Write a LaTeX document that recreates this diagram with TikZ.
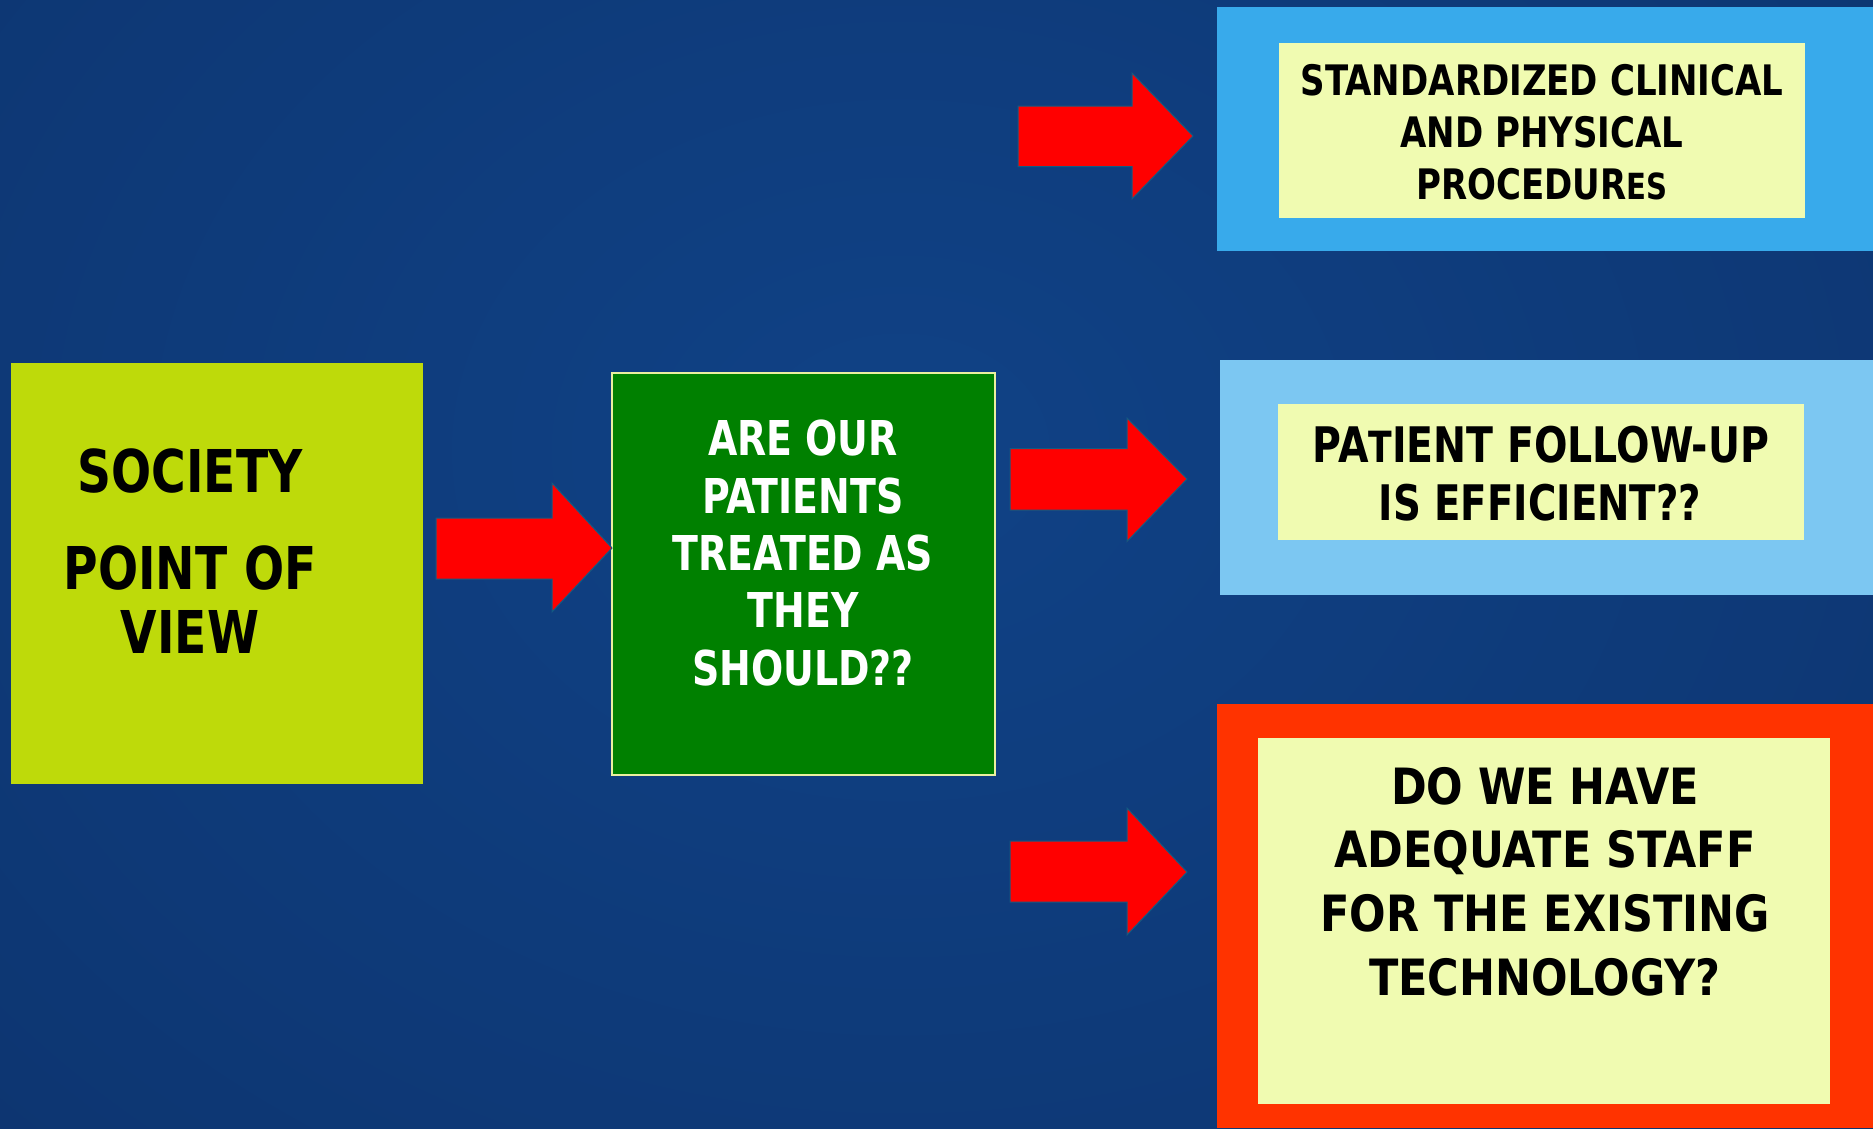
\documentclass[tikz,border=0pt]{standalone}
\usepackage{fontspec}
\setmainfont{DejaVu Sans}
\definecolor{bgin}{RGB}{16,66,134}
\definecolor{bgmid}{RGB}{13,54,114}
\definecolor{bgout}{RGB}{6,26,72}
\definecolor{lime}{RGB}{190,218,10}
\definecolor{boxgreen}{RGB}{0,128,0}
\definecolor{paleyel}{RGB}{240,251,177}
\definecolor{skyA}{RGB}{56,170,235}
\definecolor{skyB}{RGB}{124,199,242}
\definecolor{hotred}{RGB}{255,51,0}
\definecolor{arrowred}{RGB}{255,0,0}
\definecolor{arrowedge}{RGB}{20,90,130}
\pgfdeclareradialshading{bgshade}{\pgfpoint{0bp}{0bp}}{color(0bp)=(bgin); color(26bp)=(bgmid); color(58bp)=(bgout)}
\newcommand\sx[2]{\scalebox{#1}[1]{#2}}
\begin{document}
\begin{tikzpicture}[x=1pt,y=-1pt,
  panel/.style={rectangle, inner sep=0pt, outer sep=0pt, anchor=north west},
  txt/.style={anchor=base, inner sep=0pt, outer sep=0pt},
  blockarrow/.style={fill=arrowred, draw=arrowedge, line width=1pt, line join=miter}]
\useasboundingbox (0,0) rectangle (1873,1128);
\begin{scope}
\clip (0,0) rectangle (1873,1128);
\shade[shading=bgshade] (-250,-450) rectangle (2050,1350);
\end{scope}

% boxes
\node[panel, fill=lime, minimum width=412pt, minimum height=421pt] (society) at (11,363) {};
\node[panel, fill=boxgreen, draw={rgb,255:red,235;green,240;blue,160}, line width=1.5pt,
      minimum width=383pt, minimum height=402pt] (treated) at (612,373) {};
\node[panel, fill=skyA, minimum width=656pt, minimum height=244pt] (outerA) at (1217,7) {};
\node[panel, fill=paleyel, minimum width=526pt, minimum height=175pt] (innerA) at (1279,43) {};
\node[panel, fill=skyB, minimum width=653pt, minimum height=235pt] (outerB) at (1220,360) {};
\node[panel, fill=paleyel, minimum width=526pt, minimum height=136pt] (innerB) at (1278,404) {};
\node[panel, fill=hotred, minimum width=656pt, minimum height=424pt] (outerC) at (1217,704) {};
\node[panel, fill=paleyel, minimum width=572pt, minimum height=366pt] (innerC) at (1258,738) {};

% arrows
\draw[blockarrow] (436,518) -- (552,518) -- (552,483) -- (612,548) -- (552,612) -- (552,579) -- (436,579) -- cycle;
\draw[blockarrow] (1018,106) -- (1132,106) -- (1132,73) -- (1193,136) -- (1132,199) -- (1132,166.5) -- (1018,166.5) -- cycle;
\draw[blockarrow] (1010,448.5) -- (1127,448.5) -- (1127,418) -- (1187,479) -- (1127,541.5) -- (1127,510) -- (1010,510) -- cycle;
\draw[blockarrow] (1010,841) -- (1127,841) -- (1127,808) -- (1187,872) -- (1127,935) -- (1127,902) -- (1010,902) -- cycle;

% left box text
\begin{scope}[every node/.style={txt, font=\bfseries\fontsize{59}{59}\selectfont}]
\node (s1) at (190,492) {\sx{0.80}{SOCIETY}};
\node (s2) at (190,589) {\sx{0.80}{POINT OF}};
\node (s3) at (190,653) {\sx{0.80}{VIEW}};
\end{scope}

% green box text
\begin{scope}[every node/.style={txt, text=white, font=\bfseries\fontsize{48}{48}\selectfont}]
\node (g1) at (803,455) {\sx{0.79}{ARE OUR}};
\node (g2) at (803,513) {\sx{0.79}{PATIENTS}};
\node (g3) at (803,570) {\sx{0.79}{TREATED AS}};
\node (g4) at (803,627) {\sx{0.79}{THEY}};
\node (g5) at (803,685) {\sx{0.79}{SHOULD??}};
\end{scope}

% box A text
\begin{scope}[every node/.style={txt, font=\bfseries\fontsize{42}{42}\selectfont}]
\node (a1) at (1542,95.7) {\sx{0.81}{STANDARDIZED CLINICAL}};
\node (a2) at (1542,147.3) {\sx{0.81}{AND PHYSICAL}};
\node (a3) at (1542,199) {\sx{0.81}{PROCEDUR{\fontsize{36}{36}\selectfont ES}}};
\end{scope}

% box B text
\begin{scope}[every node/.style={txt, font=\bfseries\fontsize{49}{49}\selectfont}]
\node (b1) at (1541,462.7) {\sx{0.805}{PA{\fontsize{43}{43}\selectfont T}IENT FOLLOW-UP}};
\node (b2) at (1540,520) {\sx{0.79}{IS EFFICIENT??}};
\end{scope}

% box C text
\begin{scope}[every node/.style={txt, font=\bfseries\fontsize{50}{50}\selectfont}]
\node (c1) at (1545,804) {\sx{0.86}{DO WE HAVE}};
\node (c2) at (1545,867.3) {\sx{0.86}{ADEQUATE STAFF}};
\node (c3) at (1545,931.7) {\sx{0.86}{FOR THE EXISTING}};
\node (c4) at (1545,995) {\sx{0.86}{TECHNOLOGY?}};
\end{scope}
\end{tikzpicture}
\end{document}
